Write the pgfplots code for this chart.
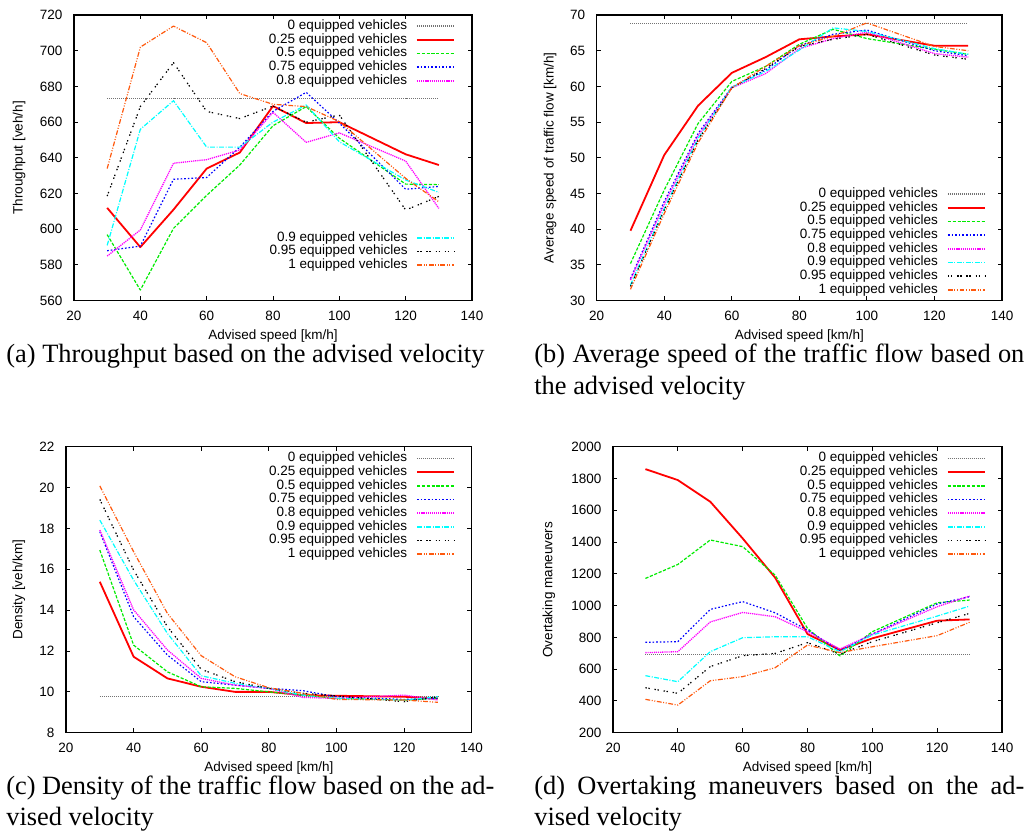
\documentclass[border=0pt]{standalone}
\usepackage{fontspec}
\setmainfont{Liberation Sans}
\newfontfamily\capfont{Liberation Serif}
\usepackage{pgfplots}
\usepackage{pgfplotstable}
\pgfplotsset{compat=1.18}
\newcommand\tkfont{\fontsize{6.75}{8}\selectfont}
\newcommand\cpfont{\capfont\fontsize{13.2}{15}\selectfont}
\definecolor{cgray}{gray}{0.45}
\definecolor{cred}{rgb}{1,0,0}
\definecolor{cgreen}{rgb}{0,0.92,0}
\definecolor{cblue}{rgb}{0,0,1}
\definecolor{cmag}{rgb}{1,0,1}
\definecolor{ccyan}{rgb}{0,1,1}
\definecolor{cblack}{rgb}{0,0,0}
\definecolor{corange}{rgb}{1,0.35,0.05}

\pgfplotstableread{
x s0 s1 s2 s3 s4 s5 s6 s7
30 673 612 597 588 585 591 618.6 634
40 673 590 566 590.6 599.6 656 668.7 702
50 673 611 600.5 628 637 672 693.3 713.8
60 673 634 619 629 639 646 666 704.5
70 673 643 636 646 644.4 646 662 676
80 673 669 658 666 665.5 660 669 670
90 673 659.5 668.7 676.7 648.7 669.6 660 668.7
100 673 660 651 659.5 654 649 664 660.3
120 673 642 625.3 622.4 638.2 627.6 610.8 628.5
130 673 636 625 624 611.7 620.7 618.4 615.4
}\ta
\pgfplotstableread{
x s0 s1 s2 s3 s4 s5 s6 s7
30 68.8 39.8 35.2 33.1 32.9 32.2 32.0 31.6
40 68.8 50.4 45.5 43.9 43.5 42.9 42.7 42.2
50 68.8 57.3 54.8 53.4 53.1 52.7 52.5 52.1
60 68.8 61.9 60.7 59.9 59.8 59.9 59.8 59.8
70 68.8 64.1 62.8 62.3 61.8 62.1 62.5 62.8
80 68.8 66.6 65.9 65.7 65.3 65.1 65.6 65.7
90 68.8 67.0 68.0 67.3 66.7 68.2 66.6 67.0
100 68.8 67.3 66.7 67.9 67.6 67.7 67.3 68.9
120 68.8 65.7 65.2 65.0 64.6 65.3 64.4 65.6
130 68.8 65.7 64.5 64.3 64.1 64.5 63.8 65.0
}\tb
\pgfplotstableread{
x s0 s1 s2 s3 s4 s5 s6 s7
30 9.77 15.39 16.94 17.84 17.92 18.41 19.42 20.08
40 9.77 11.72 12.29 13.68 14.01 15.47 15.96 16.86
50 9.77 10.66 10.98 11.80 12.05 12.86 13.19 13.84
60 9.77 10.25 10.25 10.50 10.66 10.79 11.10 11.77
70 9.77 10.0 10.17 10.33 10.33 10.42 10.50 10.74
80 9.77 10.0 10.0 10.17 10.17 10.17 10.17 10.20
90 9.77 9.84 9.84 10.06 9.73 9.84 9.93 9.93
100 9.77 9.81 9.68 9.76 9.68 9.68 9.80 9.63
120 9.77 9.76 9.60 9.63 9.84 9.60 9.52 9.60
130 9.77 9.68 9.68 9.68 9.60 9.76 9.76 9.49
}\tc
\pgfplotstableread{
x s0 s1 s2 s3 s4 s5 s6 s7
30 693 1859 1171 769 704 559 483 410
40 693 1790 1259 773 710 521 448 374
50 693 1654 1413 976 897 710 616 527
60 693 1423 1371 1025 957 798 685 553
70 693 1176 1192 955 930 804 699 609
80 693 821 857 846 836 804 767 752
90 693 720 683 716 727 710 695 704
100 693 794 836 821 819 815 773 741
120 693 905 1018 1010 993 934 892 811
130 693 913 1035 1056 1060 997 951 895
}\td

\tikzset{
  s0/.style={draw=cgray, line width=0.55pt, dash pattern=on 0.4pt off 0.6pt},
  s1/.style={draw=cred, line width=0.9pt, solid},
  s2/.style={draw=cgreen, line width=0.6pt, dash pattern=on 1.6pt off 0.8pt},
  s3/.style={draw=cblue, line width=0.6pt, dash pattern=on 0.8pt off 1pt},
  s4/.style={draw=cmag, line width=0.65pt, dash pattern=on 0.6pt off 0.45pt},
  s5/.style={draw=ccyan, line width=0.6pt, dash pattern=on 2.4pt off 0.8pt on 0.5pt off 0.8pt},
  s6/.style={draw=cblack, line width=0.6pt, dash pattern=on 0.7pt off 0.8pt on 0.7pt off 2.4pt},
  s7/.style={draw=corange, line width=0.6pt, dash pattern=on 2.4pt off 0.8pt on 0.5pt off 0.8pt on 0.5pt off 0.8pt},
}
\pgfplotsset{
  base/.style={
    scale only axis, anchor=north west,
    xmin=20, xmax=140, xtick={20,40,...,140},
    tick align=inside, major tick length=2.2pt,
    axis line style={line width=0.6pt},
    every tick/.style={black, line width=0.5pt},
    tick label style={font=\tkfont},
    label style={font=\tkfont},
    /pgf/number format/assume math mode=true,
    /pgf/number format/1000 sep={},
    scaled ticks=false,
    yticklabel style={xshift=-2.25pt},
    xticklabel style={yshift=-1.75pt},
    xlabel={Advised speed [km/h]},
    xlabel style={at={(axis description cs:0.5,-0.135)}, anchor=base},
    legend cell align=right, legend plot pos=right,
    legend style={draw=none, fill=none, inner sep=0pt, outer sep=0pt,
      font=\tkfont, row sep=0pt, /tikz/column sep=4.5pt,
      nodes={inner sep=0pt, text height=5.1pt, text depth=1.75pt}},
    legend image code/.code={\draw[##1] (0pt,-0.12pt) -- (18.5pt,-0.12pt);
      \draw[##1] (0pt,0.12pt) -- (18.5pt,0.12pt);},
    every axis plot/.append style={line join=round},
  }
}

\begin{document}
\begin{tikzpicture}
\path (0,0) rectangle (513.5pt,-416pt);
% ---------- (a)
\begin{axis}[base, at={(37pt,-7.5pt)}, width=199pt, height=142.85pt,
  ymin=560, ymax=720, ytick={560,580,...,720},
  ylabel={Throughput [veh/h]},
  ylabel style={at={(axis description cs:-0.138,0.5)}, anchor=center},
  legend style={at={(0.957,0.9855)}, anchor=north east}]
\addplot[s0] table[x=x,y=s0]{\ta}; \addlegendentry{0 equipped vehicles}
\addplot[s1] table[x=x,y=s1]{\ta}; \addlegendentry{0.25 equipped vehicles}
\addplot[s2] table[x=x,y=s2]{\ta}; \addlegendentry{0.5 equipped vehicles}
\addplot[s3] table[x=x,y=s3]{\ta}; \addlegendentry{0.75 equipped vehicles}
\addplot[s4] table[x=x,y=s4]{\ta}; \addlegendentry{0.8 equipped vehicles}
\end{axis}
\begin{axis}[base, hide axis, at={(37pt,-7.5pt)}, width=199pt, height=142.85pt,
  ymin=560, ymax=720,
  legend style={at={(0.957,0.2445)}, anchor=north east}]
\addplot[s5] table[x=x,y=s5]{\ta}; \addlegendentry{0.9 equipped vehicles}
\addplot[s6] table[x=x,y=s6]{\ta}; \addlegendentry{0.95 equipped vehicles}
\addplot[s7] table[x=x,y=s7]{\ta}; \addlegendentry{1 equipped vehicles}
\end{axis}
% ---------- (b)
\begin{axis}[base, at={(298.35pt,-7.5pt)}, width=202.65pt, height=142.85pt,
  ymin=30, ymax=70, ytick={30,35,...,70},
  ylabel={Average speed of traffic flow [km/h]},
  ylabel style={at={(axis description cs:-0.115,0.5)}, anchor=center},
  legend style={at={(0.960,0.397)}, anchor=north east}]
\addplot[s0] table[x=x,y=s0]{\tb}; \addlegendentry{0 equipped vehicles}
\addplot[s1] table[x=x,y=s1]{\tb}; \addlegendentry{0.25 equipped vehicles}
\addplot[s2] table[x=x,y=s2]{\tb}; \addlegendentry{0.5 equipped vehicles}
\addplot[s3] table[x=x,y=s3]{\tb}; \addlegendentry{0.75 equipped vehicles}
\addplot[s4] table[x=x,y=s4]{\tb}; \addlegendentry{0.8 equipped vehicles}
\addplot[s5] table[x=x,y=s5]{\tb}; \addlegendentry{0.9 equipped vehicles}
\addplot[s6] table[x=x,y=s6]{\tb}; \addlegendentry{0.95 equipped vehicles}
\addplot[s7] table[x=x,y=s7]{\tb}; \addlegendentry{1 equipped vehicles}
\end{axis}
% ---------- (c)
\begin{axis}[base, at={(33pt,-223.35pt)}, width=202.85pt, height=143pt,
  ymin=8, ymax=22, ytick={8,10,...,22},
  ylabel={Density [veh/km]},
  ylabel style={at={(axis description cs:-0.116,0.5)}, anchor=center},
  legend style={at={(0.959,0.983)}, anchor=north east}]
\addplot[s0] table[x=x,y=s0]{\tc}; \addlegendentry{0 equipped vehicles}
\addplot[s1] table[x=x,y=s1]{\tc}; \addlegendentry{0.25 equipped vehicles}
\addplot[s2] table[x=x,y=s2]{\tc}; \addlegendentry{0.5 equipped vehicles}
\addplot[s3] table[x=x,y=s3]{\tc}; \addlegendentry{0.75 equipped vehicles}
\addplot[s4] table[x=x,y=s4]{\tc}; \addlegendentry{0.8 equipped vehicles}
\addplot[s5] table[x=x,y=s5]{\tc}; \addlegendentry{0.9 equipped vehicles}
\addplot[s6] table[x=x,y=s6]{\tc}; \addlegendentry{0.95 equipped vehicles}
\addplot[s7] table[x=x,y=s7]{\tc}; \addlegendentry{1 equipped vehicles}
\end{axis}
% ---------- (d)
\begin{axis}[base, at={(306.5pt,-223.35pt)}, width=194.5pt, height=143pt,
  ymin=200, ymax=2000, ytick={200,400,...,2000},
  ylabel={Overtaking maneuvers},
  ylabel style={at={(axis description cs:-0.165,0.5)}, anchor=center},
  legend style={at={(0.958,0.983)}, anchor=north east}]
\addplot[s0] table[x=x,y=s0]{\td}; \addlegendentry{0 equipped vehicles}
\addplot[s1] table[x=x,y=s1]{\td}; \addlegendentry{0.25 equipped vehicles}
\addplot[s2] table[x=x,y=s2]{\td}; \addlegendentry{0.5 equipped vehicles}
\addplot[s3] table[x=x,y=s3]{\td}; \addlegendentry{0.75 equipped vehicles}
\addplot[s4] table[x=x,y=s4]{\td}; \addlegendentry{0.8 equipped vehicles}
\addplot[s5] table[x=x,y=s5]{\td}; \addlegendentry{0.9 equipped vehicles}
\addplot[s6] table[x=x,y=s6]{\td}; \addlegendentry{0.95 equipped vehicles}
\addplot[s7] table[x=x,y=s7]{\td}; \addlegendentry{1 equipped vehicles}
\end{axis}
% ---------- captions
\node[anchor=base west, inner sep=0pt, font=\cpfont] at (3pt,-181pt)
  {(a) Throughput based on the advised velocity};
\node[anchor=base west, inner sep=0pt, font=\cpfont] at (267pt,-181pt)
  {\makebox[245pt][s]{(b) Average speed of the traffic flow based on}};
\node[anchor=base west, inner sep=0pt, font=\cpfont] at (267pt,-197pt)
  {the advised velocity};
\node[anchor=base west, inner sep=0pt, font=\cpfont] at (3pt,-397pt)
  {\makebox[244pt][s]{(c) Density of the traffic flow based on the ad-}};
\node[anchor=base west, inner sep=0pt, font=\cpfont] at (3pt,-412.5pt)
  {vised velocity};
\node[anchor=base west, inner sep=0pt, font=\cpfont] at (267pt,-397pt)
  {\makebox[245pt][s]{(d) Overtaking maneuvers based on the ad-}};
\node[anchor=base west, inner sep=0pt, font=\cpfont] at (267pt,-412.5pt)
  {vised velocity};
\end{tikzpicture}
\end{document}
